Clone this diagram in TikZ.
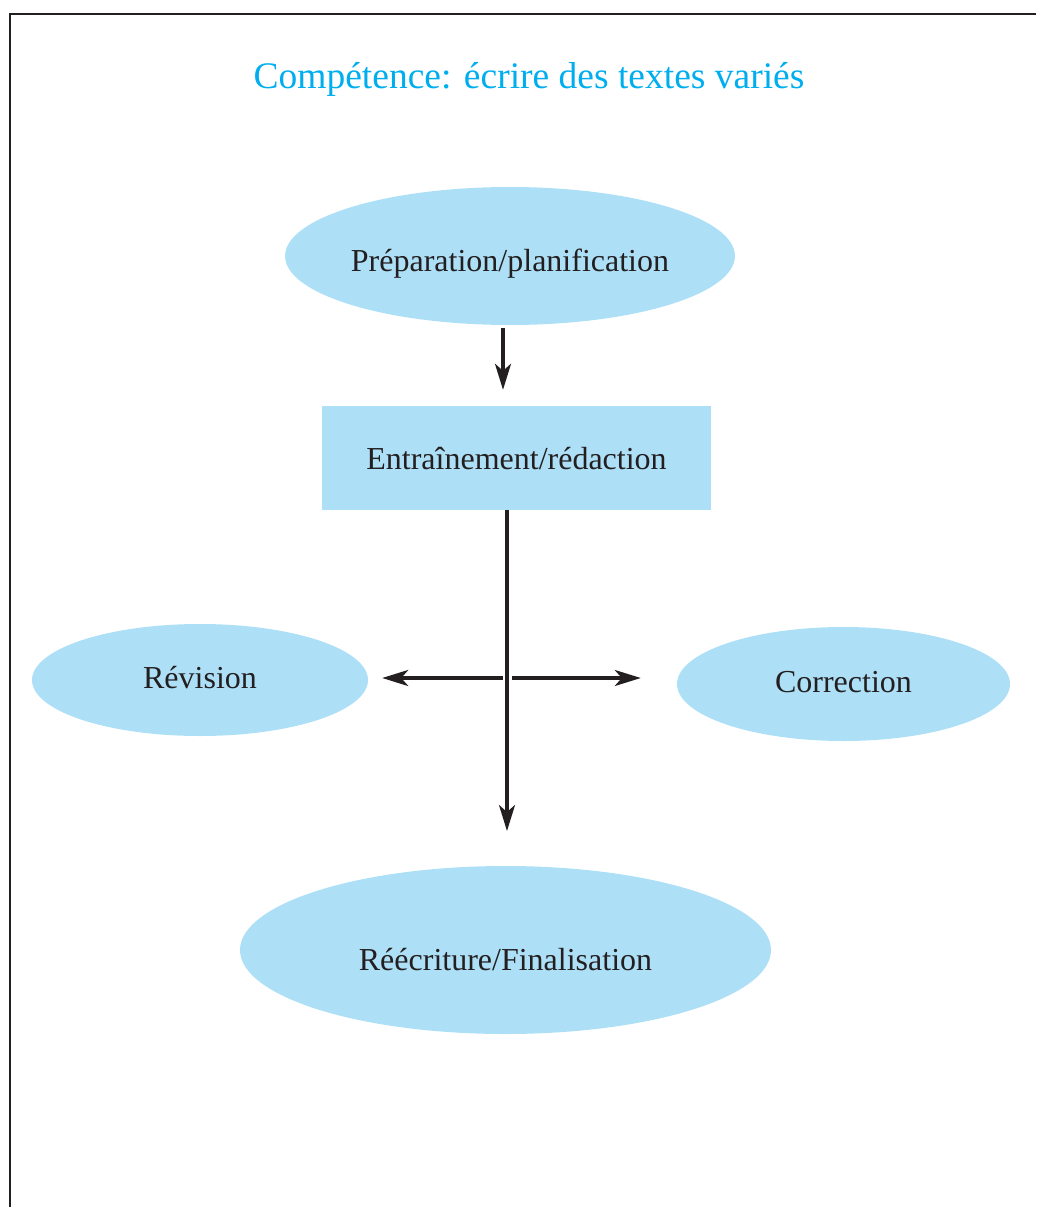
\documentclass[tikz,border=0pt]{standalone}
\usepackage{fontspec}
\setmainfont{Liberation Serif}
\usetikzlibrary{shapes.geometric,arrows.meta,calc}
\definecolor{bubble}{HTML}{ADE0F7}
\definecolor{titlecol}{HTML}{00AEEF}
\definecolor{ink}{HTML}{231F20}
\tikzset{
  oval/.style={ellipse, fill=bubble, inner sep=0pt, text=ink, font=\fontsize{32}{36}\selectfont, text depth=0pt},
  boxnode/.style={rectangle, fill=bubble, inner sep=0pt, text=ink, font=\fontsize{32}{36}\selectfont, text depth=0pt},
  arr/.style={draw=ink, line width=3.2pt, -{Stealth[length=26pt,width=16pt,inset=7pt]}},
  frameline/.style={draw=ink, line width=2pt}
}
\begin{document}
\begin{tikzpicture}[x=1pt,y=-1pt]
\useasboundingbox (0,0) rectangle (1036,1207);
\coordinate (ftl) at (10,14);
\coordinate (ftr) at (1036,14);
\coordinate (fbl) at (10,1207);
\draw[frameline] (ftr) -- (ftl) -- (fbl);

\node[text=titlecol, font=\fontsize{37.5}{42}\selectfont] (title) at (529,79) {Compétence: écrire des textes variés};

\node[oval, text height=31pt, minimum width=446pt, minimum height=138pt] (prep) at (510,256) {Préparation/planification};
\node[boxnode, text height=23pt, minimum width=389pt, minimum height=104pt] (ent) at (516.5,458) {Entraînement/rédaction};
\node[oval, text height=16pt, minimum width=336pt, minimum height=112pt] (rev) at (200,680) {Révision};
\node[oval, text height=16pt, minimum width=333pt, minimum height=114pt] (cor) at (843.5,684) {Correction};
\node[oval, text height=40pt, minimum width=531pt, minimum height=168pt] (fin) at (505.5,950) {Réécriture/Finalisation};

\coordinate (hubL) at (503,678);
\coordinate (hubR) at (512,678);
\coordinate (downend) at (507,831);

\draw[arr, shorten <=3pt, shorten >=16pt] ([xshift=-7pt]prep.south) -- ([xshift=-7pt]prep.south |- ent.north);
\draw[arr] ([xshift=-9.5pt]ent.south) -- (downend);
\draw[arr, shorten >=14pt] (hubL) -- (hubL -| rev.east);
\draw[arr, shorten >=36pt] (hubR) -- (hubR -| cor.west);
\end{tikzpicture}
\end{document}
